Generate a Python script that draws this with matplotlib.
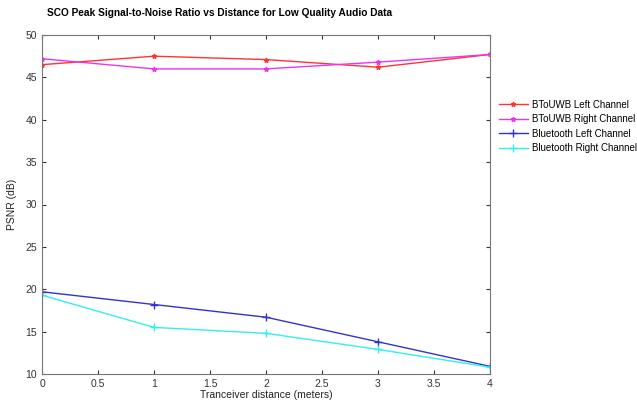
import numpy as np
import matplotlib.pyplot as plt

plt.rcParams['font.family'] = ['Liberation Sans', 'DejaVu Sans']

# distance in meters
distance = [0, 1, 2, 3, 4]

btouwb_left = [46.5, 47.5, 47.1, 46.2, 47.7]
btouwb_right = [47.2, 46.0, 46.0, 46.8, 47.7]
bt_left = [19.7, 18.2, 16.7, 13.8, 10.9]
bt_right = [19.3, 15.5, 14.8, 12.9, 10.8]

labels = ['BToUWB Left Channel', 'BToUWB Right Channel',
          'Bluetooth Left Channel', 'Bluetooth Right Channel']

fig = plt.figure(figsize=(6.37, 4.04), dpi=100)
ax = fig.add_axes([42 / 637, 1 - 374 / 404, 448 / 637, 339 / 404])

ax.plot(distance, btouwb_left, color='#ff3333', marker='*', markersize=3.5, lw=1, label=labels[0])
ax.plot(distance, btouwb_right, color='#ee33ee', marker='*', markersize=3.5, lw=1, label=labels[1])
ax.plot(distance, bt_left, color='#3333cc', marker='+', markersize=6, lw=1, label=labels[2])
ax.plot(distance, bt_right, color='#33eeee', marker='+', markersize=6, lw=1, label=labels[3])

ax.set_xlim(0, 4)
ax.set_ylim(10, 50)
ax.set_xticks(np.arange(0, 4.5, 0.5))
ax.set_xticklabels(['0', '0.5', '1', '1.5', '2', '2.5', '3', '3.5', '4'])
ax.set_yticks(np.arange(10, 55, 5))
ax.tick_params(direction='in', length=3, labelsize=7.5, colors='#333333',
               top=True, right=True)
for s in ax.spines.values():
    s.set_color('#777777')

ax.set_xlabel('Tranceiver distance (meters)', fontsize=7.5, labelpad=1, color='#222222')
ax.set_ylabel('PSNR (dB)', fontsize=7.5, labelpad=6, color='#222222')
fig.text(220 / 637, 1 - 13 / 404,
         'SCO Peak Signal-to-Noise Ratio vs Distance for Low Quality Audio Data',
         ha='center', va='center', fontsize=7.3, fontweight='bold')

fig.legend(loc='upper left', bbox_to_anchor=(495 / 637, 1 - 96 / 404),
           frameon=False, fontsize=7, handlelength=3.0, handletextpad=0.4,
           labelspacing=0.45, borderaxespad=0)

fig.savefig('out.png', dpi=100)
